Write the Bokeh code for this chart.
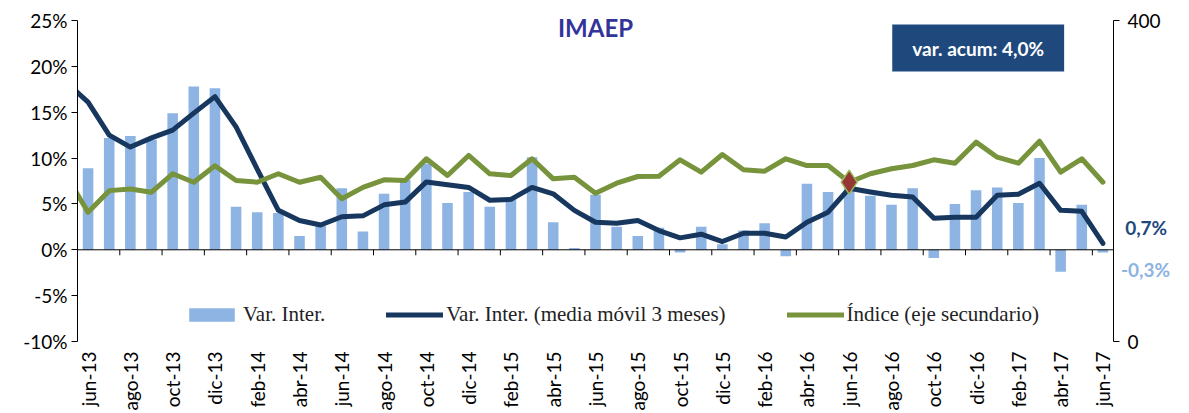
import numpy as np
from bokeh.plotting import figure
from bokeh.models import Range1d, LinearAxis, FixedTicker, Label, Legend, LegendItem
from bokeh.embed import file_html
from bokeh.resources import INLINE

months = ["may-13", "jun-13", "jul-13", "ago-13", "sep-13", "oct-13", "nov-13", "dic-13",
          "ene-14", "feb-14", "mar-14", "abr-14", "may-14", "jun-14", "jul-14", "ago-14",
          "sep-14", "oct-14", "nov-14", "dic-14", "ene-15", "feb-15", "mar-15", "abr-15",
          "may-15", "jun-15", "jul-15", "ago-15", "sep-15", "oct-15", "nov-15", "dic-15",
          "ene-16", "feb-16", "mar-16", "abr-16", "may-16", "jun-16", "jul-16", "ago-16",
          "sep-16", "oct-16", "nov-16", "dic-16", "ene-17", "feb-17", "mar-17", "abr-17",
          "may-17", "jun-17"]

# Var. Inter. (%), jun-13 .. jun-17
var_inter = [8.9, 12.2, 12.4, 12.0, 14.9, 17.8, 17.6, 4.7, 4.1, 4.0, 1.5, 2.6, 6.7, 2.0,
             6.1, 7.6, 9.4, 5.1, 6.3, 4.7, 5.7, 10.1, 3.0, 0.2, 6.0, 2.5, 1.5, 2.4, -0.3,
             2.5, 0.6, 2.1, 2.9, -0.7, 7.2, 6.3, 6.8, 5.9, 4.9, 6.7, -0.9, 5.0, 6.5, 6.8,
             5.1, 10.0, -2.4, 4.9, -0.3]

# media movil 3 meses (%), may-13 .. jun-17
media_movil = [18.2, 16.1, 12.5, 11.2, 12.2, 13.05, 14.9, 16.7, 13.4, 8.8, 4.3, 3.2, 2.7,
               3.6, 3.7, 4.9, 5.2, 7.4, 7.1, 6.8, 5.4, 5.5, 6.8, 6.1, 4.3, 3.0, 2.9, 3.2,
               2.1, 1.3, 1.7, 0.9, 1.8, 1.8, 1.4, 3.0, 4.1, 6.7, 6.3, 5.95, 5.75, 3.45,
               3.55, 3.55, 5.95, 6.05, 7.25, 4.3, 4.2, 0.7]

# Indice (eje secundario), may-13 .. jun-17
indice = [205.6, 161, 188, 190, 186, 209, 198.5, 219, 200.6, 198.5, 209, 198.5, 204.7,
          177.8, 192, 201.5, 200.6, 227.7, 206.9, 231.8, 209, 206.9, 227.7, 202.7, 204.7,
          184.8, 197.3, 205.6, 206, 226.4, 211, 233, 214, 212.2, 227.7, 219.3, 219.3,
          198.5, 209, 215.2, 219.3, 226.4, 222.2, 248.4, 229.7, 222.2, 249.6, 211, 227.7,
          198.5]

left_ticks = [-10, -5, 0, 5, 10, 15, 20, 25]
right_ticks = [0, 400]
highlight = "jun-16"

title_text = "IMAEP"
box_text = "var. acum: 4,0%"
last_ma_text = "0,7%"
last_var_text = "-0,3%"

AXIS_FONT = "Lato"
LEG_FONT = "Liberation Serif"

pos_all = np.arange(len(months)) - 1          # may-13 at -1 (off-chart lead-in)
pos_bars = pos_all[1:]
n = len(pos_bars)

# layout: axes drawn from y=20 px (25% / 400) to y=341 px (-10% / 0), x 77..1113 px
W, H = 1189, 413
left_b, bottom_b = 77, 64
frame_w = W - left_b
frame_h = H - bottom_b
axis_top_px, axis_bot_px = 20, 341
px_per_cat = 1036 / n
px_per_pct = (axis_bot_px - axis_top_px) / 35
px_per_idx = (axis_bot_px - axis_top_px) / 400
x_end = -0.5 + frame_w / px_per_cat
y_bot = -10 - (frame_h - axis_bot_px) / px_per_pct
y_top = y_bot + frame_h / px_per_pct
idx_bot = -(frame_h - axis_bot_px) / px_per_idx
idx_top = idx_bot + frame_h / px_per_idx

p = figure(width=W, height=H, output_backend="svg", toolbar_location=None,
           x_range=Range1d(-0.5, x_end), y_range=Range1d(y_bot, y_top),
           min_border_left=left_b, min_border_right=0, min_border_top=0,
           min_border_bottom=bottom_b)
p.outline_line_color = None
p.xgrid.visible = False
p.ygrid.visible = False
p.background_fill_color = "white"

p.extra_y_ranges = {"idx": Range1d(idx_bot, idx_top)}

# bars
r_bar = p.vbar(x=pos_bars, top=var_inter, width=0.5, bottom=0,
               fill_color="#8DB4E2", line_color=None)

# zero line + category ticks
p.line([-0.5, n - 0.5], [0, 0], line_color="black", line_width=1)
tick_pos = [x - 0.5 for x in pos_bars[::2]]
p.segment(x0=tick_pos, x1=tick_pos, y0=[0] * len(tick_pos), y1=[-0.6] * len(tick_pos),
          line_color="black", line_width=1)

r_ma = p.line(pos_all, media_movil, line_color="#17375E", line_width=5,
              line_join="round", line_cap="round")
r_idx = p.line(pos_all, indice, line_color="#77933C", line_width=5,
               line_join="round", line_cap="round", y_range_name="idx")

hi = months.index(highlight)
p.scatter([pos_all[hi]], [indice[hi]], marker="diamond", size=24, fill_color="#953735",
          line_color="#9BBB59", line_width=1.5, y_range_name="idx")

# axes
p.yaxis.ticker = FixedTicker(ticks=left_ticks)
p.yaxis.bounds = (-10, 25)
p.yaxis.major_label_overrides = {t: f"{t}%" for t in left_ticks}
p.yaxis.minor_tick_line_color = None
p.yaxis.major_tick_in = 0
p.yaxis.major_tick_out = 6
p.yaxis.axis_line_color = "black"
p.yaxis.major_label_text_font = AXIS_FONT
p.yaxis.major_label_text_font_size = "19px"
p.yaxis.major_label_text_color = "black"
p.yaxis.major_label_standoff = 4

ax2 = LinearAxis(y_range_name="idx", ticker=FixedTicker(ticks=right_ticks),
                 fixed_location=n - 0.5, bounds=(0, 400))
ax2.minor_tick_line_color = None
ax2.major_tick_in = 0
ax2.major_tick_out = 6
ax2.axis_line_color = "black"
ax2.major_label_text_font = AXIS_FONT
ax2.major_label_text_font_size = "19px"
ax2.major_label_text_color = "black"
ax2.major_label_standoff = 8
p.add_layout(ax2, "right")

p.xaxis.ticker = FixedTicker(ticks=list(pos_bars[::2]))
p.xaxis.major_label_overrides = {int(i): months[int(i) + 1] for i in pos_bars[::2]}
p.xaxis.major_label_orientation = np.pi / 2
p.xaxis.axis_line_color = None
p.xaxis.major_tick_line_color = None
p.xaxis.minor_tick_line_color = None
p.xaxis.major_label_text_font = AXIS_FONT
p.xaxis.major_label_text_font_size = "19px"
p.xaxis.major_label_text_color = "black"
p.xaxis.major_label_standoff = -4

# annotations
p.add_layout(Label(x=24.0, y=24.2, text=title_text, text_align="center",
                   text_baseline="middle", text_font=AXIS_FONT, text_font_style="bold",
                   text_font_size="24px", text_color="#333399"))
p.add_layout(Label(x=42.1, y=22.0, text=box_text, text_align="center",
                   text_baseline="middle", text_font=AXIS_FONT, text_font_style="bold",
                   text_font_size="19px", text_color="white",
                   background_fill_color="#1F497D",
                   padding=dict(left=20, right=20, top=12, bottom=12)))
p.add_layout(Label(x=49.05, y=2.4, text=last_ma_text, text_align="left",
                   text_baseline="middle", text_font=AXIS_FONT, text_font_style="bold",
                   text_font_size="19px", text_color="#1F497D"))
p.add_layout(Label(x=48.85, y=-2.2, text=last_var_text, text_align="left",
                   text_baseline="middle", text_font=AXIS_FONT, text_font_style="bold",
                   text_font_size="19px", text_color="#8DB4E2"))

legend = Legend(items=[LegendItem(label="Var. Inter.", renderers=[r_bar]),
                       LegendItem(label="Var. Inter. (media móvil 3 meses)", renderers=[r_ma]),
                       LegendItem(label="Índice (eje secundario)", renderers=[r_idx])],
                orientation="horizontal", location=(104, 12 + frame_h - axis_bot_px),
                label_text_font=LEG_FONT, label_text_font_size="21px",
                label_text_color="#222222",
                glyph_width=57, glyph_height=17, label_standoff=3, spacing=61,
                padding=2, margin=0, background_fill_alpha=0, border_line_alpha=0)
p.add_layout(legend)

open("out.html", "w").write(file_html(p, INLINE))
